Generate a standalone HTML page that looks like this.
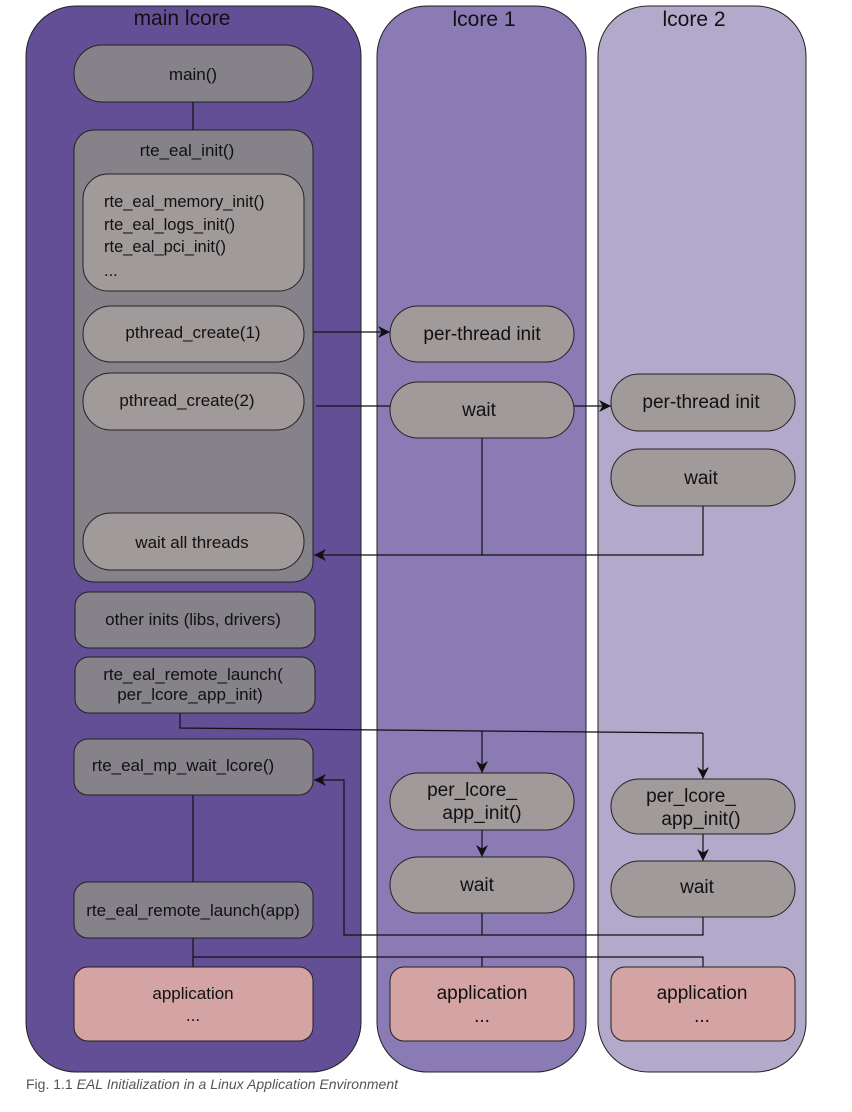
<!DOCTYPE html>
<html><head><meta charset="utf-8"><style>
html,body{margin:0;padding:0;background:#fff;}
svg{display:block;}
text{font-family:"Liberation Sans",sans-serif;fill:#111;}
</style></head><body>
<svg width="852" height="1112" viewBox="0 0 852 1112" xmlns="http://www.w3.org/2000/svg">
<defs>
<marker id="a" viewBox="0 0 10 10" refX="10" refY="5" markerWidth="14" markerHeight="12" markerUnits="userSpaceOnUse" orient="auto">
<path d="M0,0 L10,5 L0,10 L3,5 Z" fill="#111"/></marker>
</defs>
<rect x="26" y="6" width="335" height="1066" rx="50" fill="#624f95" stroke="#222" stroke-width="1"/>
<rect x="377" y="6" width="209" height="1066" rx="50" fill="#8a7bb5" stroke="#222" stroke-width="1"/>
<rect x="598" y="6" width="208" height="1066" rx="50" fill="#b3aacb" stroke="#222" stroke-width="1"/>
<text x="182" y="25" font-size="21" text-anchor="middle">main lcore</text>
<text x="484" y="26" font-size="21" text-anchor="middle">lcore 1</text>
<text x="694" y="26" font-size="21" text-anchor="middle">lcore 2</text>

<g stroke="#111" stroke-width="1.2" fill="none">
<line x1="193" y1="102" x2="193" y2="130"/>
<line x1="304" y1="332" x2="390" y2="332" marker-end="url(#a)"/>
<line x1="316" y1="406" x2="611" y2="406" marker-end="url(#a)"/>
<polyline points="482,438 482,555"/>
<polyline points="703,506 703,555 314,555" marker-end="url(#a)"/>
<polyline points="180,713 180,728 482,731 703,733"/>
<line x1="482" y1="731" x2="482" y2="773" marker-end="url(#a)"/>
<line x1="703" y1="733" x2="703" y2="779" marker-end="url(#a)"/>
<line x1="482" y1="830" x2="482" y2="857" marker-end="url(#a)"/>
<line x1="703" y1="834" x2="703" y2="861" marker-end="url(#a)"/>
<polyline points="482,913 482,935"/>
<polyline points="703,917 703,935 344,935 344,780 314,780" marker-end="url(#a)"/>
<line x1="193" y1="795" x2="193" y2="882"/>
<line x1="193" y1="938" x2="193" y2="967"/>
<polyline points="193,957 703,957 703,967"/>
<line x1="482" y1="957" x2="482" y2="967"/>
</g>

<g stroke="#222" stroke-width="1">
<rect x="74" y="45" width="239" height="57" rx="28" fill="#858289"/>
<rect x="74" y="130" width="239" height="452" rx="20" fill="#858289"/>
<rect x="83" y="174" width="221" height="117" rx="25" fill="#a09a9a"/>
<rect x="83" y="306" width="221" height="56" rx="28" fill="#a09a9a"/>
<rect x="83" y="373" width="221" height="57" rx="28" fill="#a09a9a"/>
<rect x="83" y="513" width="221" height="57" rx="28" fill="#a09a9a"/>
<rect x="75" y="592" width="240" height="56" rx="14" fill="#858289"/>
<rect x="75" y="657" width="240" height="56" rx="14" fill="#858289"/>
<rect x="74" y="739" width="239" height="56" rx="14" fill="#858289"/>
<rect x="74" y="882" width="239" height="56" rx="14" fill="#858289"/>
<rect x="74" y="967" width="239" height="74" rx="14" fill="#d4a3a3"/>
<rect x="390" y="306" width="184" height="56" rx="28" fill="#a09a9a"/>
<rect x="390" y="382" width="184" height="56" rx="28" fill="#a09a9a"/>
<rect x="390" y="773" width="184" height="57" rx="28" fill="#a09a9a"/>
<rect x="390" y="857" width="184" height="56" rx="28" fill="#a09a9a"/>
<rect x="390" y="967" width="184" height="74" rx="14" fill="#d4a3a3"/>
<rect x="611" y="374" width="184" height="57" rx="28" fill="#a09a9a"/>
<rect x="611" y="449" width="184" height="57" rx="28" fill="#a09a9a"/>
<rect x="611" y="779" width="184" height="55" rx="28" fill="#a09a9a"/>
<rect x="611" y="861" width="184" height="56" rx="28" fill="#a09a9a"/>
<rect x="611" y="967" width="184" height="74" rx="14" fill="#d4a3a3"/>
</g>

<g font-size="17" text-anchor="middle">
<text x="193" y="80">main()</text>
<text x="187" y="156">rte_eal_init()</text>
<text x="193" y="338">pthread_create(1)</text>
<text x="187" y="406">pthread_create(2)</text>
<text x="192" y="548">wait all threads</text>
<text x="193" y="625">other inits (libs, drivers)</text>
<text x="193" y="680">rte_eal_remote_launch(</text>
<text x="190" y="700">per_lcore_app_init)</text>
<text x="183" y="771">rte_eal_mp_wait_lcore()</text>
<text x="193" y="916">rte_eal_remote_launch(app)</text>
<text x="193" y="999">application</text>
<text x="193" y="1021">...</text>
</g>
<g font-size="16.5" text-anchor="start">
<text x="104" y="207">rte_eal_memory_init()</text>
<text x="104" y="230">rte_eal_logs_init()</text>
<text x="104" y="252">rte_eal_pci_init()</text>
<text x="104" y="276">...</text>
</g>
<g font-size="19" text-anchor="middle">
<text x="482" y="340">per-thread init</text>
<text x="479" y="416">wait</text>
<text x="472" y="796">per_lcore_</text>
<text x="482" y="819">app_init()</text>
<text x="477" y="891">wait</text>
<text x="482" y="999">application</text>
<text x="482" y="1022">...</text>
<text x="701" y="408">per-thread init</text>
<text x="701" y="484">wait</text>
<text x="691" y="802">per_lcore_</text>
<text x="701" y="825">app_init()</text>
<text x="697" y="893">wait</text>
<text x="702" y="999">application</text>
<text x="702" y="1022">...</text>
</g>
<text x="26" y="1089" font-size="14" style="fill:#555">Fig. 1.1 <tspan font-style="italic">EAL Initialization in a Linux Application Environment</tspan></text>
</svg>
</body></html>
